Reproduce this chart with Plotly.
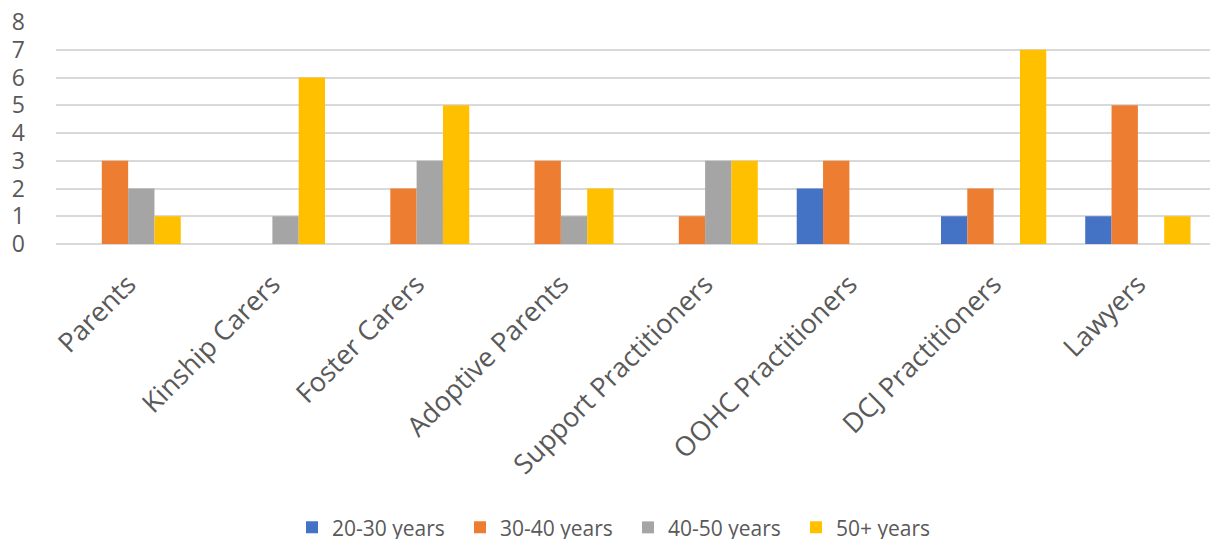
import plotly.graph_objects as go

categories = ["Parents", "Kinship Carers", "Foster Carers", "Adoptive Parents",
              "Support Practitioners", "OOHC Practitioners", "DCJ Practitioners", "Lawyers"]

age_20_30 = [0, 0, 0, 0, 0, 2, 1, 1]
age_30_40 = [3, 0, 2, 3, 1, 3, 2, 5]
age_40_50 = [2, 1, 3, 1, 3, 0, 0, 0]
age_50_plus = [1, 6, 5, 2, 3, 0, 7, 1]

series = [
    ("20-30 years", age_20_30, "#4472C4"),
    ("30-40 years", age_30_40, "#ED7D31"),
    ("40-50 years", age_40_50, "#A5A5A5"),
    ("50+ years", age_50_plus, "#FFC000"),
]

font_family = "Open Sans, Liberation Sans, sans-serif"
text_color = "#595959"

fig = go.Figure()
for name, values, color in series:
    fig.add_trace(go.Bar(
        name=name,
        x=categories,
        y=values,
        marker=dict(color=color, line=dict(width=0)),
    ))

fig.update_layout(
    width=1210,
    height=539,
    paper_bgcolor="white",
    plot_bgcolor="white",
    barmode="group",
    bargap=0.27,
    bargroupgap=0,
    margin=dict(l=56, r=0, t=22, b=295, autoexpand=False),
    font=dict(family=font_family, color=text_color),
    legend=dict(
        orientation="h",
        x=0.2045,
        xanchor="left",
        y=-1.278,
        yanchor="middle",
        font=dict(size=21, color=text_color),
        entrywidth=123,
        entrywidthmode="pixels",
        traceorder="normal",
    ),
    xaxis=dict(
        tickangle=-45,
        tickfont=dict(size=27, color=text_color),
        showgrid=False,
        showline=False,
        ticks="",
        ticklabelstandoff=18,
    ),
    yaxis=dict(
        range=[0, 8],
        dtick=1,
        tickfont=dict(size=23, color=text_color),
        showgrid=True,
        gridcolor="#D9D9D9",
        gridwidth=1.5,
        zeroline=True,
        zerolinecolor="#D9D9D9",
        zerolinewidth=1.5,
        ticks="",
        ticklabelstandoff=30,
    ),
)

fig.write_html("out.html")
